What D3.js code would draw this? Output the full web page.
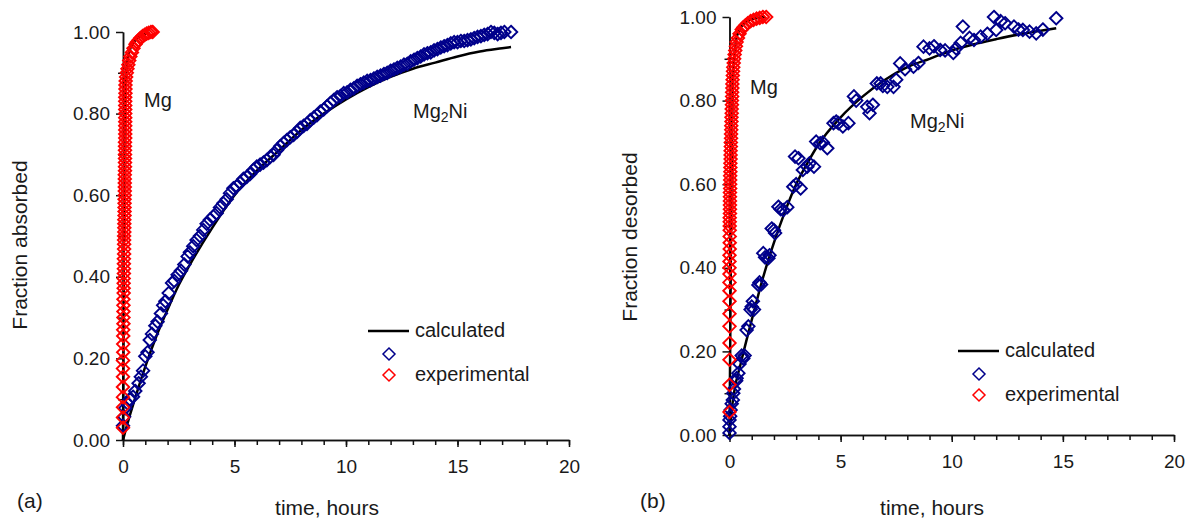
<!DOCTYPE html>
<html>
<head>
<meta charset="utf-8">
<script src="https://cdn.jsdelivr.net/npm/d3@7"></script>
<style>
  body { margin: 0; background: #fff; }
  svg text { font-family: "Liberation Sans", Arial, sans-serif; fill: #1a1a1a; }
</style>
</head>
<body>
<div id="grafico"></div>
<script>
// ---------- Datos panel (a): absorcion ----------
// Mg experimental (rojo)
const tMgAbs = [0,0,0,0,0,0,0,0,0.01,0.01,0.01,0.01,0.02,0.02,0.02,0.02,0.02,0.03,
  0.03,0.03,0.03,0.04,0.04,0.04,0.04,0.05,0.05,0.05,
  0.05,0.05,0.06,0.06,0.06,0.06,0.07,0.07,0.07,0.07,0.07,0.08,0.08,0.08,0.08,0.08,0.08,0.09,0.09,0.09,
  0.09,0.09,0.09,0.09,0.09,0.1,0.1,0.1,0.1,0.1,0.1,0.1,0.1,0.1,0.1,0.1,0.11,0.11,0.11,0.12,
  0.14,0.17,0.2,0.24,0.28,0.33,0.4,0.47,0.56,
  0.62,0.7,0.78,0.88,0.97,1.06,1.15,1.25,1.33]
const fMgAbs = [0.03,0.055,0.08,0.105,0.13,0.155,0.175,0.195,0.215,0.235,0.255,0.27,0.285,0.3,0.315,0.33,0.345,0.36,
  0.372,0.384,0.396,0.408,0.42,0.432,0.444,0.456,0.468,0.48,
  0.49,0.5,0.51,0.52,0.53,0.54,0.55,0.56,0.57,0.58,0.59,0.6,0.61,0.62,0.63,0.64,0.65,0.66,0.67,0.68,
  0.69,0.7,0.71,0.72,0.73,0.74,0.75,0.76,0.77,0.78,0.79,0.8,0.81,0.82,0.83,0.84,0.85,0.86,0.87,0.88,
  0.89,0.9,0.91,0.92,0.93,0.94,0.95,0.96,0.97,
  0.975,0.98,0.985,0.99,0.993,0.996,0.998,1,1]

// Mg2Ni experimental (azul)
const tNiAbs = [0,0.05,0.1,0.2,0.3,0.45,0.55,0.7,0.8,0.9,
  1,1.1,1.2,1.3,1.45,1.55,1.7,1.8,1.9,2.05,
  2.2,2.3,2.45,2.6,2.75,2.9,3,3.15,3.3,3.45,
  3.6,3.75,3.9,4.05,4.2,4.35,4.5,4.65,4.8,4.95,
  5.1,5.25,5.4,5.55,5.7,5.85,6,6.15,6.3,6.45,
  6.6,6.75,6.9,7.05,7.2,7.35,7.5,7.65,7.8,7.95,
  8.1,8.25,8.4,8.55,8.7,8.85,9,9.15,9.3,9.45,
  9.6,9.75,9.9,10.05,10.2,10.35,10.5,10.65,10.8,10.95,
  11.1,11.25,11.4,11.55,11.7,11.85,12,12.15,12.3,12.45,
  12.6,12.75,12.9,13.05,13.2,13.35,13.5,13.65,13.8,13.95,
  14.1,14.25,14.4,14.55,14.7,14.85,15,15.15,15.3,15.45,
  15.6,15.75,15.9,16.05,16.2,16.35,16.5,16.65,16.8,16.95,17.1,17.4]
const fNiAbs = [0.035,0.057,0.078,0.09,0.1,0.106,0.12,0.139,0.155,0.17,
  0.205,0.215,0.245,0.26,0.28,0.29,0.31,0.33,0.34,0.36,
  0.385,0.39,0.405,0.415,0.43,0.45,0.46,0.475,0.49,0.5,
  0.515,0.53,0.54,0.548,0.556,0.57,0.58,0.59,0.605,0.617,
  0.622,0.63,0.64,0.645,0.652,0.662,0.67,0.675,0.68,0.686,
  0.694,0.699,0.71,0.72,0.728,0.735,0.742,0.748,0.755,0.765,
  0.77,0.775,0.784,0.79,0.796,0.805,0.81,0.818,0.826,0.833,
  0.84,0.843,0.85,0.852,0.858,0.862,0.868,0.872,0.876,0.88,
  0.882,0.886,0.89,0.893,0.897,0.9,0.905,0.908,0.912,0.915,
  0.92,0.922,0.928,0.932,0.936,0.94,0.945,0.948,0.95,0.955,
  0.958,0.962,0.965,0.968,0.972,0.975,0.975,0.978,0.978,0.98,
  0.982,0.985,0.988,0.99,0.993,0.995,1,0.998,0.995,0.998,1,1]

// Curvas calculadas (a)
const tMgAbsCalc = [0,0.02,0.04,0.06,0.08,0.1,0.14,0.2,0.3,0.45,0.65,0.9,1.2]
const fMgAbsCalc = [0,0.25,0.5,0.7,0.8,0.86,0.9,0.93,0.955,0.972,0.985,0.993,0.998]
const tNiAbsCalc = [0,0.25,0.5,1,1.5,2,2.5,3,4,5,6,7,8,9,10,11,12,13,14,15,16,17,17.4]
const fNiAbsCalc = [0,0.05,0.095,0.18,0.255,0.32,0.38,0.43,0.52,0.6,0.66,0.71,0.76,0.8,0.835,0.865,0.89,0.91,0.925,0.94,0.952,0.96,0.963]

// ---------- Datos panel (b): desorcion ----------
const tMgDes = [0,0,0,0,0,0,0,0,0,0,0,0,0,0.01,0.01,0.01,
  0.01,0.01,0.01,0.01,0.02,0.02,0.02,0.02,0.02,0.02,
  0.03,0.03,0.03,0.03,0.04,0.04,0.04,0.05,0.05,0.05,
  0.06,0.06,0.07,0.07,0.08,0.08,0.09,0.09,0.1,0.1,
  0.11,0.11,0.12,0.12,0.13,0.13,0.14,0.15,0.16,0.17,
  0.19,0.21,0.23,0.26,0.29,0.32,0.38,0.45,0.55,
  0.62,0.72,0.82,0.95,1.08,1.22,1.36,1.5,1.65]
const fMgDes = [0.055,0.12,0.18,0.22,0.26,0.29,0.32,0.345,0.365,0.385,0.4,0.415,0.43,0.445,0.46,0.475,
  0.49,0.5,0.51,0.52,0.53,0.54,0.55,0.56,0.57,0.58,
  0.59,0.6,0.61,0.62,0.63,0.64,0.65,0.66,0.67,0.68,
  0.69,0.7,0.71,0.72,0.73,0.74,0.75,0.76,0.77,0.78,
  0.79,0.8,0.81,0.82,0.83,0.84,0.85,0.86,0.87,0.88,
  0.89,0.9,0.91,0.92,0.93,0.94,0.95,0.96,0.97,
  0.975,0.98,0.985,0.99,0.993,0.996,0.998,1,1]

const tNiDes = [0,0,0,0.03,0.05,0.1,0.15,0.17,0.2,0.3,
  0.32,0.4,0.45,0.55,0.62,0.68,0.77,0.85,0.95,1,
  1.05,1.1,1.3,1.35,1.42,1.52,1.6,1.75,1.8,1.9,
  2,2.05,2.2,2.3,2.42,2.6,2.87,2.95,3,3.1,
  3.2,3.3,3.5,3.6,3.8,3.9,4.08,4.2,4.4,4.68,
  4.8,4.9,5.1,5.35,5.6,5.7,6.2,6.3,6.45,6.63,
  6.8,6.9,7.1,7.38,7.5,7.68,7.9,8.28,8.5,8.73,
  9,9.2,9.48,9.7,10.07,10.2,10.4,10.5,10.8,11,
  11.3,11.6,11.9,12,12.2,12.4,12.8,13,13.2,13.5,
  13.8,14.1,14.7]
const fNiDes = [0.005,0.02,0.036,0.045,0.06,0.075,0.084,0.1,0.11,0.13,
  0.136,0.148,0.17,0.19,0.183,0.19,0.251,0.26,0.3,0.307,
  0.32,0.3,0.359,0.365,0.36,0.435,0.425,0.423,0.43,0.494,
  0.49,0.483,0.546,0.54,0.538,0.545,0.594,0.666,0.6,0.662,
  0.59,0.634,0.642,0.65,0.642,0.702,0.698,0.7,0.686,0.746,
  0.75,0.746,0.738,0.746,0.81,0.8,0.785,0.77,0.79,0.841,
  0.841,0.835,0.833,0.833,0.85,0.889,0.875,0.881,0.89,0.929,
  0.925,0.93,0.921,0.92,0.914,0.925,0.938,0.977,0.95,0.945,
  0.953,0.96,1,0.969,0.99,0.985,0.977,0.97,0.969,0.965,
  0.961,0.97,0.997]

const tMgDesCalc = [0,0.03,0.06,0.09,0.12,0.16,0.22,0.3,0.45,0.65,0.9,1.2,1.6]
const fMgDesCalc = [0,0.2,0.42,0.6,0.75,0.85,0.91,0.945,0.97,0.984,0.993,0.997,1]
const tNiDesCalc = [0,0.1,0.2,0.5,1,1.5,2,2.5,3,3.5,4,5,6,7,8,9,10,11,12,13,14,14.7]
const fNiDesCalc = [0,0.06,0.1,0.17,0.275,0.375,0.46,0.535,0.6,0.65,0.695,0.76,0.81,0.85,0.88,0.9,0.92,0.935,0.947,0.958,0.967,0.973]

// Ticks
const ticksY = [0, 0.2, 0.4, 0.6, 0.8, 1.0]
const ticksYMenor = [0.1, 0.3, 0.5, 0.7, 0.9]
const ticksX = [0, 5, 10, 15, 20]
const ticksXMenor = d3.range(0, 21)

const azul = "#00008b"
const rojo = "#ff0000"

const svg = d3.select("#grafico")
  .append("svg")
  .attr("width", 1186)
  .attr("height", 519)

// rombo hueco (cuadrado girado)
const rombo = {
  draw(ctx, size) {
    const r = Math.sqrt(size / 2)
    ctx.moveTo(0, -r)
    ctx.lineTo(r, 0)
    ctx.lineTo(0, r)
    ctx.lineTo(-r, 0)
    ctx.closePath()
  },
}
const simbolo = d3.symbol().type(rombo).size(72)
const simboloDato = d3.symbol().type(rombo).size(78)

const zip = (ts, fs) => ts.map((t, i) => ({ t, f: fs[i] }))

const paneles = [
  {
    xr: [123, 569], yr: [440, 32],
    tituloY: "Fraction absorbed", tituloYPos: [27, 245],
    tituloXPos: [327, 515], letra: "(a)", letraPos: [17, 508],
    mg: zip(tMgAbs, fMgAbs), ni: zip(tNiAbs, fNiAbs),
    mgCalc: zip(tMgAbsCalc, fMgAbsCalc), niCalc: zip(tNiAbsCalc, fNiAbsCalc),
    etMg: [144, 107], etNi: [413, 118],
    ley: { x: 368, y: 331 },
  },
  {
    xr: [729.5, 1174], yr: [435, 17],
    tituloY: "Fraction desorbed", tituloYPos: [637, 237],
    tituloXPos: [932, 515], letra: "(b)", letraPos: [640, 508],
    mg: zip(tMgDes, fMgDes), ni: zip(tNiDes, fNiDes),
    mgCalc: zip(tMgDesCalc, fMgDesCalc), niCalc: zip(tNiDesCalc, fNiDesCalc),
    etMg: [750, 94], etNi: [910, 128],
    ley: { x: 958, y: 351 },
  },
]

const estiloEje = (g) => {
  g.selectAll("path, line").attr("stroke", "#111").attr("stroke-width", 1.5)
  g.selectAll("text").attr("font-size", 19).attr("fill", "#1a1a1a")
    .attr("font-family", "Liberation Sans, Arial, sans-serif")
}

const dibujarPanel = (p) => {
  const x = d3.scaleLinear().domain([0, 20]).range(p.xr)
  const y = d3.scaleLinear().domain([0, 1]).range(p.yr)
  const g = svg.append("g")

  // ejes menores
  g.append("g")
    .attr("transform", `translate(${p.xr[0]},0)`)
    .call(d3.axisLeft(y).tickValues(ticksYMenor).tickSize(5).tickSizeOuter(0).tickFormat(""))
    .call(estiloEje)
  g.append("g")
    .attr("transform", `translate(0,${p.yr[0]})`)
    .call(d3.axisBottom(x).tickValues(ticksXMenor).tickSize(5).tickSizeOuter(0).tickFormat(""))
    .call(estiloEje)
  // ejes mayores
  g.append("g")
    .attr("transform", `translate(${p.xr[0]},0)`)
    .call(d3.axisLeft(y).tickValues(ticksY).tickSize(7).tickPadding(6).tickSizeOuter(0).tickFormat(d3.format(".2f")))
    .call(estiloEje)
  g.append("g")
    .attr("transform", `translate(0,${p.yr[0]})`)
    .call(d3.axisBottom(x).tickValues(ticksX).tickSize(7).tickPadding(13).tickSizeOuter(0).tickFormat(d3.format("d")))
    .call(estiloEje)

  // curvas calculadas
  const linea = d3.line().x((d) => x(d.t)).y((d) => y(d.f)).curve(d3.curveMonotoneX)
  g.selectAll(".calc")
    .data([p.niCalc, p.mgCalc])
    .enter()
    .append("path")
    .attr("d", linea)
    .attr("fill", "none")
    .attr("stroke", "#000")
    .attr("stroke-width", 2.5)

  // puntos experimentales
  const puntos = (datos, color) =>
    g.append("g")
      .selectAll("path")
      .data(datos)
      .enter()
      .append("path")
      .attr("d", simboloDato)
      .attr("transform", (d) => `translate(${x(d.t)},${y(d.f)})`)
      .attr("fill", "none")
      .attr("stroke", color)
      .attr("stroke-width", 1.9)
  puntos(p.ni, azul)
  puntos(p.mg, rojo)

  // titulos
  g.append("text")
    .attr("transform", `translate(${p.tituloYPos[0]},${p.tituloYPos[1]}) rotate(-90)`)
    .attr("text-anchor", "middle")
    .attr("font-size", 21)
    .text(p.tituloY)
  g.append("text")
    .attr("x", p.tituloXPos[0]).attr("y", p.tituloXPos[1])
    .attr("text-anchor", "middle")
    .attr("font-size", 21)
    .text("time, hours")
  g.append("text")
    .attr("x", p.letraPos[0]).attr("y", p.letraPos[1])
    .attr("font-size", 21)
    .text(p.letra)

  // etiquetas de las curvas
  g.append("text").attr("x", p.etMg[0]).attr("y", p.etMg[1]).attr("font-size", 20).text("Mg")
  const ni = g.append("text").attr("x", p.etNi[0]).attr("y", p.etNi[1]).attr("font-size", 20)
  ni.append("tspan").text("Mg")
  ni.append("tspan").attr("font-size", 14).attr("dy", 4).text("2")
  ni.append("tspan").attr("dy", -4).text("Ni")

  // leyenda
  const l = g.append("g").attr("transform", `translate(${p.ley.x},${p.ley.y})`)
  l.append("line").attr("x1", 0).attr("x2", 41).attr("y1", 0).attr("y2", 0)
    .attr("stroke", "#000").attr("stroke-width", 2.5)
  l.append("text").attr("x", 47).attr("y", 6).attr("font-size", 20).text("calculated")
  l.append("path").attr("d", simbolo).attr("transform", "translate(21,23)")
    .attr("fill", "none").attr("stroke", azul).attr("stroke-width", 1.5)
  l.append("path").attr("d", simbolo).attr("transform", "translate(21,44)")
    .attr("fill", "none").attr("stroke", rojo).attr("stroke-width", 1.5)
  l.append("text").attr("x", 47).attr("y", 50).attr("font-size", 20).text("experimental")
}

paneles.forEach(dibujarPanel)
</script>
</body>
</html>
